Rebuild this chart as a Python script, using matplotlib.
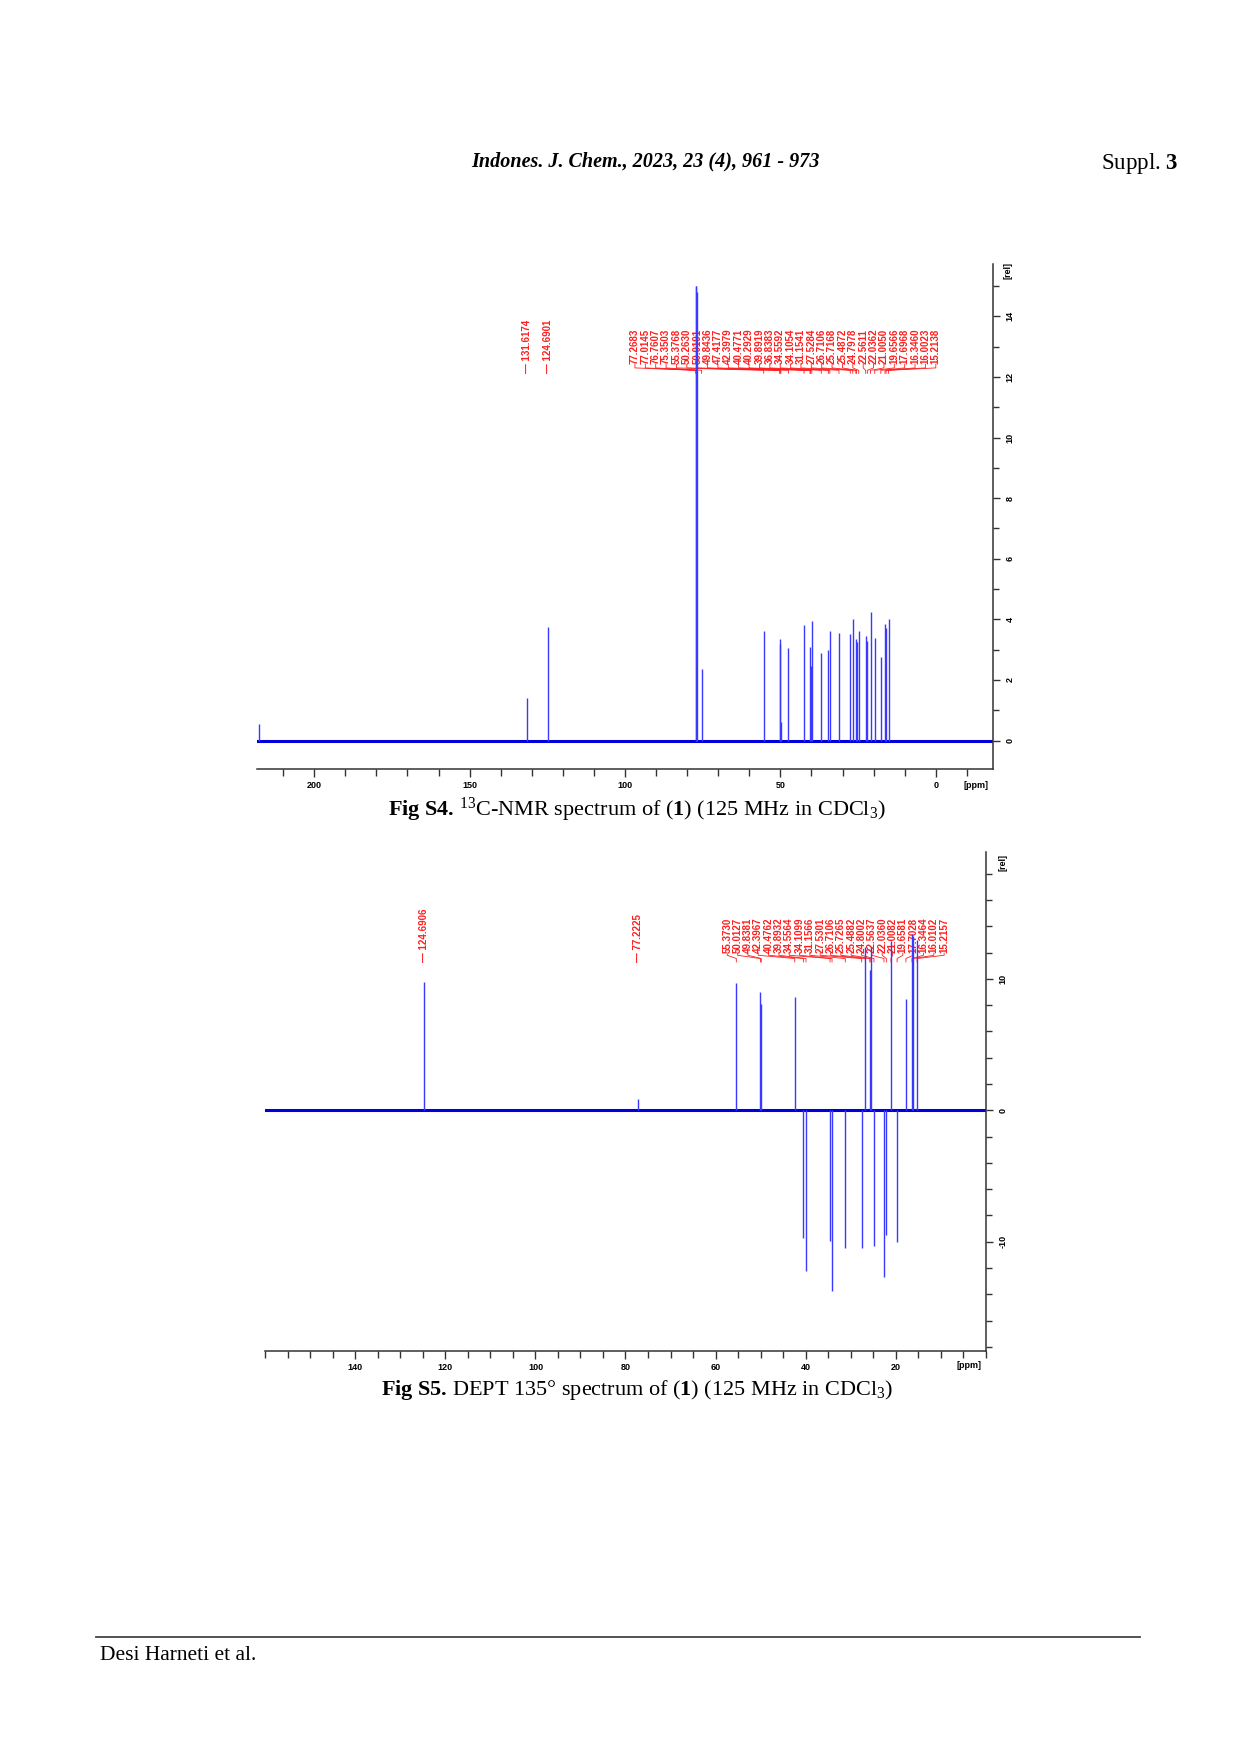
import numpy as np
import matplotlib
matplotlib.use("Agg")
import matplotlib.pyplot as plt
from matplotlib.ticker import FixedLocator, MultipleLocator

plt.rcParams['font.family'] = ['Liberation Sans', 'DejaVu Sans']
plt.rcParams['mathtext.fontset'] = 'custom'
plt.rcParams['mathtext.rm'] = 'Liberation Serif'
plt.rcParams['mathtext.bf'] = 'Liberation Serif:bold'
plt.rcParams['mathtext.it'] = 'Liberation Serif:italic'

# --[13C-NMR (Fig S4)]---------------------------------------------------------
c13_single_ppm = [131.6174, 124.6901]
c13_single_int = [1.4, 3.75]
c13_group_ppm = [77.2683, 77.0145, 76.7607, 75.3503, 55.3768, 50.2630, 50.0191,
                 49.8436, 47.4177, 42.3979, 40.4771, 40.2929, 39.8919, 36.8383,
                 34.5592, 34.1054, 31.1541, 27.5284, 26.7106, 25.7168, 25.4872,
                 24.7978, 22.5611, 22.0362, 21.0050, 19.6566, 17.6968, 16.3460,
                 16.0023, 15.2138]
c13_group_int = [15.0, 15.0, 14.8, 2.35, 3.6, 3.35, 3.2,
                 0.6, 3.05, 3.8, 3.1, 2.45, 3.95, 2.9,
                 3.0, 3.6, 3.55, 3.5, 4.0, 3.35, 3.25,
                 3.6, 3.45, 3.3, 4.25, 3.4, 2.75, 3.85,
                 3.7, 4.0]
c13_edge_ppm = [217.9]
c13_edge_int = [0.56]

# --[DEPT 135 (Fig S5)]---------------------------------------------------------
dept_single_ppm = [124.6906, 77.2225]
dept_single_int = [9.8, 0.85]
dept_group_ppm = [55.3730, 50.0127, 49.8381, 42.3967, 40.4762, 39.8932, 34.5564,
                  34.1099, 31.1566, 27.5301, 26.7106, 25.7265, 25.4882, 24.8002,
                  22.5637, 22.0360, 21.0082, 19.6581, 17.7028, 16.3464, 16.0102,
                  15.2157]
dept_group_int = [9.7, 9.0, 8.1, 8.6, -9.7, -12.25, -9.95,
                  -13.75, -10.5, -10.5, 12.4, 10.7, 12.4, -10.3,
                  -12.7, -9.5, 12.9, -10.0, 8.5, 13.4, 13.3,
                  13.0]

W, H = 1240, 1754
fig = plt.figure(figsize=(W / 100, H / 100), dpi=100)

LINE = '#3a3aff'
BASE = '#0000dd'
RED = '#ff1e1e'


def px_axes(l, t, r, b):
    return fig.add_axes([l / W, 1 - b / H, (r - l) / W, (b - t) / H])


def style(ax, xlim, ylim, xmaj, xmin_step, ymaj, ymin_step):
    ax.set_xlim(*xlim)
    ax.set_ylim(*ylim)
    for s in ('left', 'top'):
        ax.spines[s].set_visible(False)
    for s in ('right', 'bottom'):
        ax.spines[s].set_color('#333333')
        ax.spines[s].set_linewidth(1.1)
    ax.xaxis.set_major_locator(FixedLocator(xmaj))
    ax.xaxis.set_minor_locator(MultipleLocator(xmin_step))
    ax.yaxis.tick_right()
    ax.yaxis.set_major_locator(FixedLocator(ymaj))
    ax.yaxis.set_minor_locator(MultipleLocator(ymin_step))
    ax.tick_params(axis='x', which='major', direction='out', length=6, width=1,
                   color='#333333', labelsize=6.5, pad=3)
    ax.tick_params(axis='x', which='minor', direction='out', length=5, width=1,
                   color='#333333')
    ax.tick_params(axis='y', which='major', direction='out', length=5, width=1,
                   color='#333333', labelsize=6.5, pad=4, labelrotation=90)
    ax.tick_params(axis='y', which='minor', direction='out', length=4, width=1,
                   color='#333333')
    ax.set_xticklabels([f"{v:g}" for v in xmaj])
    ax.set_yticklabels([f"{v:g}" for v in ymaj])
    for lab in ax.get_xticklabels() + ax.get_yticklabels():
        lab.set_fontweight('bold')
    for lab in ax.get_yticklabels():
        lab.set_va('center')
    ax.patch.set_alpha(0)


def spectrum(ax, ppm, inten):
    ax.axhline(0, color=BASE, lw=2.2, zorder=2)
    ax.vlines(ppm, 0, inten, color=LINE, lw=1.0, zorder=3)


def group_labels(ax, ppm, lx, y_txt, y1, y2, y3):
    for p, x in zip(ppm, lx):
        ax.text(x, y_txt, f"{p:.4f}", rotation=90, ha='center', va='bottom',
                color=RED, fontsize=7, fontweight='bold', zorder=1)
        ax.plot([x, x, p, p], [y_txt, y1, y2, y3], color=RED, lw=0.6, zorder=1)


def single_labels(ax, ppm, y_txt):
    for p in ppm:
        ax.text(p, y_txt, "\u2014 " + f"{p:.4f}", rotation=90, ha='center',
                va='bottom', color=RED, fontsize=7, fontweight='bold', zorder=1)


# --[Fig S4]--------------------------------------------------------------------
ax1 = px_axes(257, 264, 993, 769)
spectrum(ax1, c13_single_ppm + c13_group_ppm + c13_edge_ppm,
         c13_single_int + c13_group_int + c13_edge_int)
style(ax1, (218.4, -18.4), (-0.94, 15.73), [200, 150, 100, 50, 0], 10,
      [0, 2, 4, 6, 8, 10, 12, 14], 1)
group_labels(ax1, c13_group_ppm, np.linspace(96.8, 0.0, len(c13_group_ppm)),
             12.42, 12.3, 12.22, 12.12)
single_labels(ax1, c13_single_ppm, 12.12)
ax1.text(0.977, -0.032, '[ppm]', transform=ax1.transAxes, ha='center', va='center',
         fontsize=6.5, fontweight='bold')
ax1.text(1.020, 0.988, '[rel]', transform=ax1.transAxes, ha='center', va='center',
         fontsize=6.5, fontweight='bold', rotation=90)

# --[Fig S5]--------------------------------------------------------------------
ax2 = px_axes(265, 852, 986, 1350.6)
spectrum(ax2, dept_single_ppm + dept_group_ppm, dept_single_int + dept_group_int)
style(ax2, (160.1, -0.1), (-18.29, 19.66), [140, 120, 100, 80, 60, 40, 20], 5,
      [-10, 0, 10], 2)
group_labels(ax2, dept_group_ppm, np.linspace(57.4, 9.2, len(dept_group_ppm)),
             11.97, 11.8, 11.55, 11.29)
single_labels(ax2, dept_single_ppm, 11.29)
ax2.text(0.976, -0.029, '[ppm]', transform=ax2.transAxes, ha='center', va='center',
         fontsize=6.5, fontweight='bold')
ax2.text(1.024, 0.978, '[rel]', transform=ax2.transAxes, ha='center', va='center',
         fontsize=6.5, fontweight='bold', rotation=90)

# --[Page text]-----------------------------------------------------------------
serif = ['Liberation Serif', 'DejaVu Serif']
fig.text(645 / W, 1 - 161 / H, 'Indones. J. Chem., 2023, 23 (4), 961 - 973',
         ha='center', va='center', family=serif, style='italic', fontweight='bold',
         fontsize=14.5)
fig.text(1178 / W, 1 - 164 / H, r'Suppl. $\mathbf{3}$', ha='right', va='center',
         family=serif, fontsize=16.5)
fig.text(637 / W, 1 - 810 / H,
         r'$\mathbf{Fig\ S4.}\,^{13}$C-NMR spectrum of ($\mathbf{1}$) (125 MHz in CDCl$_{3}$)',
         ha='center', va='center', family=serif, fontsize=16)
fig.text(637 / W, 1 - 1390 / H,
         r'$\mathbf{Fig\ S5.}\,$DEPT 135° spectrum of ($\mathbf{1}$) (125 MHz in CDCl$_{3}$)',
         ha='center', va='center', family=serif, fontsize=16)
fig.add_artist(plt.Line2D([96 / W, 1140 / W], [1 - 1637 / H, 1 - 1637 / H],
                          color='#444444', lw=1.3))
fig.text(100 / W, 1 - 1656 / H, 'Desi Harneti et al.', ha='left', va='center',
         family=serif, fontsize=15.5)

fig.savefig('out.png', dpi=100)
